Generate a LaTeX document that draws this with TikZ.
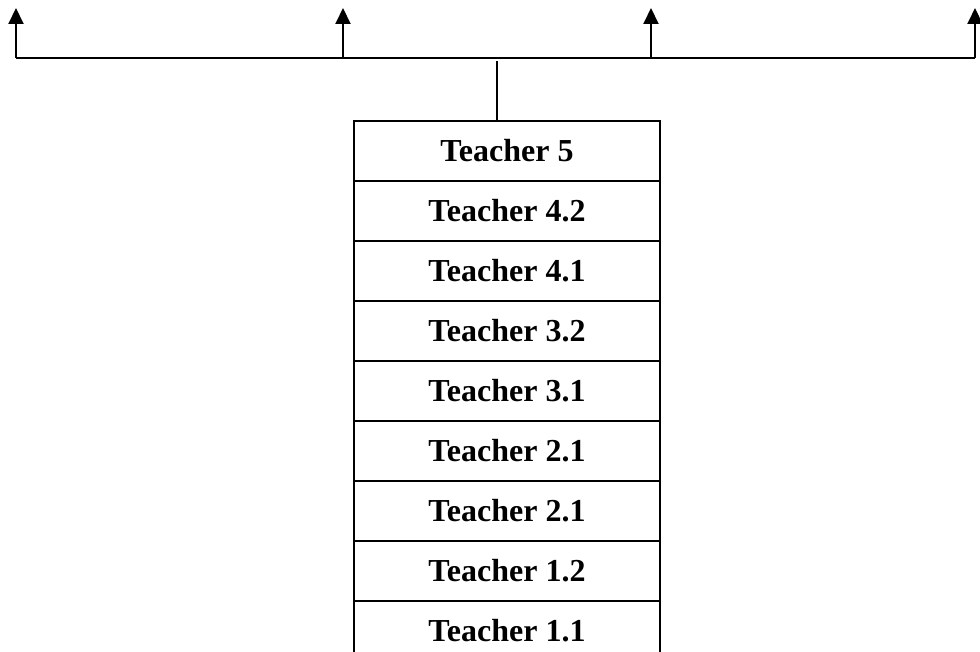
\documentclass[tikz,border=0pt]{standalone}
\usepackage{fontspec}
\setmainfont{Liberation Serif}
\usetikzlibrary{arrows.meta}
\begin{document}
\begin{tikzpicture}[x=1pt,y=-1pt,
  row/.style={draw, line width=2pt, minimum width=306pt, minimum height=60pt,
    inner sep=0pt, font=\fontsize{32}{38}\selectfont\bfseries},
  wire/.style={line width=2pt},
  up/.style={wire, -{Triangle[length=16pt,width=15pt]}}]
\useasboundingbox (0,0) rectangle (980,652);
\clip (0,0) rectangle (980,652);
\node[row] (r9) at (507,151) {Teacher 5};
\node[row] (r8) at (507,211) {Teacher 4.2};
\node[row] (r7) at (507,271) {Teacher 4.1};
\node[row] (r6) at (507,331) {Teacher 3.2};
\node[row] (r5) at (507,391) {Teacher 3.1};
\node[row] (r4) at (507,451) {Teacher 2.1};
\node[row] (r3) at (507,511) {Teacher 2.1};
\node[row] (r2) at (507,571) {Teacher 1.2};
\node[row] (r1) at (507,631) {Teacher 1.1};
\coordinate (b1) at (16,58);
\coordinate (b2) at (343,58);
\coordinate (b3) at (651,58);
\coordinate (b4) at (975,58);
\coordinate (t1) at (16,8);
\coordinate (t2) at (343,8);
\coordinate (t3) at (651,8);
\coordinate (t4) at (975,8);
\coordinate (j) at (497,61);
\draw[wire] (b1) -- (b4);
\draw[up] (b1) -- (t1);
\draw[up] (b2) -- (t2);
\draw[up] (b3) -- (t3);
\draw[up] (b4) -- (t4);
\draw[wire] (r9.north -| j) -- (j);
\end{tikzpicture}
\end{document}
